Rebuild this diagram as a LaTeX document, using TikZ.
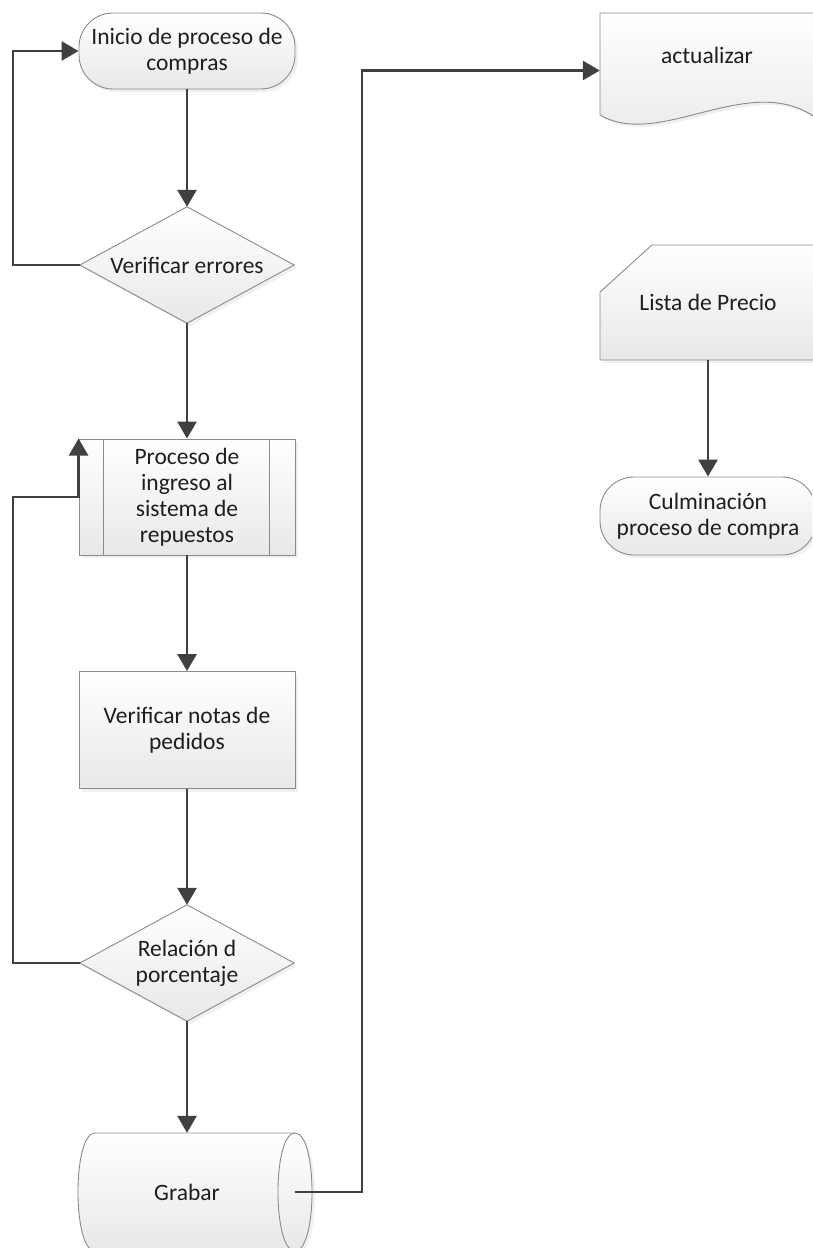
\documentclass[tikz,border=0pt]{standalone}
\usepackage{fontspec}
\setmainfont{Carlito}
\usetikzlibrary{arrows.meta,shadows,calc}
\definecolor{conn}{HTML}{404040}
\definecolor{edge}{HTML}{8A8A8A}
\definecolor{ink}{HTML}{1E1E1E}
\pgfdeclarelayer{bg}
\pgfsetlayers{bg,main}
\begin{document}
\begin{tikzpicture}[x=1pt,y=-1pt,
  txt/.style={font=\fontsize{23.5}{26}\selectfont, text=ink, align=center, inner sep=0pt},
  boxfill/.style={draw=edge, line width=0.9pt, top color=white, bottom color=black!9,
    drop shadow={opacity=0.12, shadow xshift=3pt, shadow yshift=-3pt}},
  slot/.style={txt, minimum width=216pt, minimum height=#1},
  terminal/.style={boxfill, rounded corners=34pt},
  edgeline/.style={draw=edge, line width=0.9pt},
  flow/.style={draw=conn, line width=2.8pt, -{Triangle[length=17pt,width=19pt]}},
  link/.style={draw=conn, line width=2.8pt},
]
\path[use as bounding box, clip] (0,0) rectangle (812,1248);

% ---- left column ----
\node[slot=76pt, terminal] (inicio) at (187,51) {Inicio de proceso de\\compras};
\node[slot=116pt, minimum width=214pt] (verr) at (187,265) {Verificar errores};
\node[slot=116pt, boxfill] (proc) at (187,497) {Proceso de\\ingreso al\\sistema de\\repuestos};
\draw[edgeline] ([xshift=25pt]proc.north west) -- ([xshift=25pt]proc.south west);
\draw[edgeline] ([xshift=-26pt]proc.north east) -- ([xshift=-26pt]proc.south east);
\node[slot=117pt, boxfill] (notas) at (187,730) {Verificar notas de\\pedidos};
\node[slot=116pt, minimum width=214pt] (rel) at (187,963) {Relación d\\porcentaje};
\node[slot=118pt] (grabar) at (187,1192) {Grabar};

% ---- right column ----
\node[slot=115pt] (doc) at (708,70.5) {};
\node[txt] (doctext) at (707,55) {actualizar};
\node[slot=115pt] (lista) at (708,302.5) {Lista de Precio};
\node[slot=78pt, terminal] (culm) at (708,516) {Culminación\\proceso de compra};

% ---- outlines drawn behind their texts ----
\begin{pgfonlayer}{bg}
  \draw[boxfill] (verr.north) -- (verr.east) -- (verr.south) -- (verr.west) -- cycle;
  \draw[boxfill] (rel.north) -- (rel.east) -- (rel.south) -- (rel.west) -- cycle;
  % horizontal drum
  \draw[boxfill] (95,1133) -- (295,1133)
      .. controls (317.7,1133) and (317.7,1251) .. (295,1251)
      -- (95,1251)
      .. controls (72.3,1251) and (72.3,1133) .. (95,1133) -- cycle;
  \draw[edgeline] (295,1133) .. controls (272.3,1133) and (272.3,1251) .. (295,1251);
  % document with wavy lower edge
  \draw[boxfill] (600,13) -- (816,13) -- (816,118)
      .. controls (750,70) and (660,150) .. (600,115) -- cycle;
  % card with clipped corner
  \draw[boxfill] (652,245) -- (816,245) -- (816,360) -- (600,360) -- (600,292) -- cycle;
\end{pgfonlayer}

% ---- connectors ----
\coordinate (rail) at (13,0);
\coordinate (riser) at (362,0);
\draw[flow] (inicio.south) -- (verr.north);
\draw[flow] (verr.south) -- (proc.north);
\draw[flow] (proc.south) -- (notas.north);
\draw[flow] (notas.south) -- (rel.north);
\draw[flow] (rel.south) -- (grabar.north);
\draw[flow] (lista.south) -- (culm.north);
\draw[flow] (verr.west) -- (verr.west -| rail) |- (inicio.west);
\draw[flow] (rel.west) -- (rel.west -| rail) |- (proc.west) -- (proc.north west);
\draw[flow] (grabar.east) -- (grabar.east -| riser) |- (doc.west);
\end{tikzpicture}
\end{document}
